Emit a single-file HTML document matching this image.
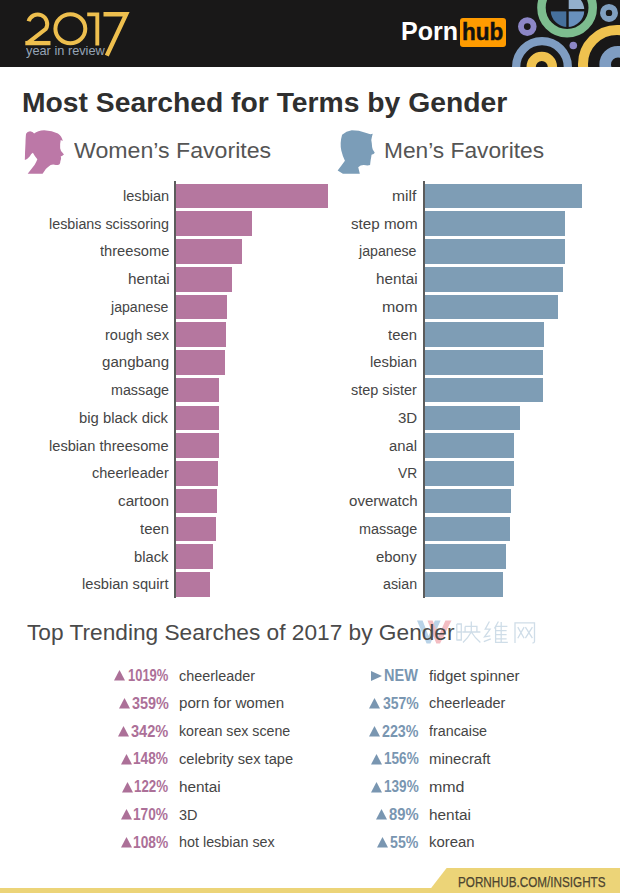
<!DOCTYPE html>
<html><head><meta charset="utf-8"><style>
html,body{margin:0;padding:0;background:#fff;}
body{width:620px;height:893px;position:relative;overflow:hidden;font-family:"Liberation Sans",sans-serif;}
.t{position:absolute;white-space:nowrap;}
</style></head><body>
<div style="position:absolute;left:0;top:0;width:620px;height:66.5px;background:#191818;overflow:hidden">
<svg width="620" height="67" style="position:absolute;left:0;top:0" viewBox="0 0 620 67">
<g fill="none">
<circle cx="567.1" cy="7.7" r="25.65" stroke="#7dbd8f" stroke-width="8.5"/>
<circle cx="527.3" cy="26.6" r="6.35" stroke="#8c86c6" stroke-width="5.9"/>
<circle cx="609" cy="12.9" r="6.1" stroke="#7f9fc0" stroke-width="5.8"/>
<circle cx="542" cy="67" r="25.85" stroke="#7f9dc2" stroke-width="8.3"/>
<circle cx="541.8" cy="67" r="10.65" stroke="#efc24f" stroke-width="9.3"/>
<circle cx="617" cy="64" r="34" stroke="#efc24f" stroke-width="10"/>
<circle cx="618" cy="64.5" r="12.8" stroke="#7f9dc2" stroke-width="11.6"/>
</g>
<circle cx="573.3" cy="45.5" r="3.8" fill="#8c86c6"/>
<g>
<path d="M567.5 10.2 L584.3 10.2 A16.8 16.8 0 0 0 567.5 -6.600000000000001 Z" fill="#93afcc"/>
<path d="M567.5 10.2 L550.7 10.2 A16.8 16.8 0 0 0 567.5 27.0 Z" fill="#46709c"/>
<path d="M567.5 10.2 L567.5 27.0 A16.8 16.8 0 0 0 584.3 10.2 Z" fill="#6890bd"/>
<rect x="566.3" y="-8" width="2.4" height="36" fill="#191818"/>
<rect x="549.7" y="9.0" width="35.6" height="2.4" fill="#191818"/>
</g>
</svg>
</div>
<svg width="140" height="67" style="position:absolute;left:0;top:0" viewBox="0 0 140 67">
<g fill="none" stroke="#eebf4e" stroke-width="4" stroke-linecap="butt" stroke-linejoin="miter" stroke-miterlimit="10">
<path d="M28.6 21.3 A9.5 9.5 0 1 1 45.9 28.8 L27.6 43.1"/>
<path d="M25.3 43.1 L50.5 43.1" stroke-width="4.3"/>
<ellipse cx="70.35" cy="28.75" rx="14.95" ry="14.45"/>
<path d="M87.2 14.4 L97.3 14.4 L97.3 45.5" stroke-width="3.9"/>
<path d="M103.5 14.25 L126.2 14.25 L106.8 55.6" stroke-width="4.3"/>
</g>
</svg>
<div class="t" style="left:25.80px;top:43.60px;font-size:13px;line-height:13px;color:#95a3b5;font-weight:normal;transform:scaleX(0.9824);transform-origin:left center;">year in review</div>
<div class="t" style="left:401.07px;top:18.78px;font-size:25.3px;line-height:25.3px;color:#ffffff;font-weight:bold;transform:scaleX(0.9891);transform-origin:left center;">Porn</div>
<div style="position:absolute;left:459.8px;top:18.1px;width:46.4px;height:28.7px;background:#ff9b00;border-radius:3px"></div>
<div class="t" style="left:462.12px;top:19.63px;font-size:24.3px;line-height:24.3px;color:#111111;font-weight:bold;transform:scaleX(0.9259);transform-origin:left center;-webkit-text-stroke:0.5px #111;">hub</div>
<div class="t" style="left:22.16px;top:88.07px;font-size:28.5px;line-height:28.5px;color:#2f2f2f;font-weight:bold;transform:scaleX(0.9925);transform-origin:left center;">Most Searched for Terms by Gender</div>
<svg width="50" height="50" style="position:absolute;left:20px;top:127px" viewBox="0 0 620 620">
<path fill="#bc78a7" d="M75 85 Q90 55 125 52 Q160 55 175 80 Q220 45 300 40 Q400 45 470 80 Q520 115 530 175 L505 160 Q495 200 498 265 Q505 300 520 310 L545 340 L525 355 L505 365 Q512 385 508 400 Q500 420 497 450 Q490 470 470 472 L445 470 Q410 462 380 470 Q345 495 320 520 L280 580 L95 580 L180 470 Q205 430 215 400 Q180 360 160 320 Q140 330 120 365 Q90 400 60 410 Q62 300 68 200 Q70 120 75 85 Z"/>
</svg>
<svg width="50" height="50" style="position:absolute;left:330px;top:127px" viewBox="0 0 620 620">
<path fill="#7b9db8" d="M150 95 Q200 50 270 40 Q360 40 440 70 L500 90 L530 85 L520 120 Q505 160 518 200 Q520 250 530 280 L555 320 Q545 340 515 345 Q512 375 505 405 Q500 440 497 470 Q470 482 420 470 Q380 468 350 500 L370 580 L160 580 L95 540 Q150 470 185 420 Q160 370 140 290 Q120 200 150 95 Z"/>
</svg>
<div class="t" style="left:73.78px;top:139.78px;font-size:22px;line-height:22px;color:#555555;font-weight:normal;transform:scaleX(1.0517);transform-origin:left center;">Women’s Favorites</div>
<div class="t" style="left:384.18px;top:139.58px;font-size:22px;line-height:22px;color:#555555;font-weight:normal;transform:scaleX(1.0331);transform-origin:left center;">Men’s Favorites</div>
<div style="position:absolute;left:174px;top:181px;width:2px;height:416.8px;background:#5c5c5c"></div>
<div style="position:absolute;left:176px;top:183.70px;width:152.00px;height:24.6px;background:#b5779f"></div>
<div class="t" style="left:123.05px;top:187.98px;font-size:15.5px;line-height:15.5px;color:#454545;font-weight:normal;transform:scaleX(0.9402);transform-origin:left center;">lesbian</div>
<div style="position:absolute;left:176px;top:211.44px;width:75.70px;height:24.6px;background:#b5779f"></div>
<div class="t" style="left:49.27px;top:215.72px;font-size:15.5px;line-height:15.5px;color:#454545;font-weight:normal;transform:scaleX(0.9224);transform-origin:left center;">lesbians scissoring</div>
<div style="position:absolute;left:176px;top:239.18px;width:65.80px;height:24.6px;background:#b5779f"></div>
<div class="t" style="left:99.58px;top:243.46px;font-size:15.5px;line-height:15.5px;color:#454545;font-weight:normal;transform:scaleX(0.9463);transform-origin:left center;">threesome</div>
<div style="position:absolute;left:176px;top:266.92px;width:55.80px;height:24.6px;background:#b5779f"></div>
<div class="t" style="left:127.63px;top:271.20px;font-size:15.5px;line-height:15.5px;color:#454545;font-weight:normal;transform:scaleX(0.9864);transform-origin:left center;">hentai</div>
<div style="position:absolute;left:176px;top:294.66px;width:51.20px;height:24.6px;background:#b5779f"></div>
<div class="t" style="left:111.45px;top:298.94px;font-size:15.5px;line-height:15.5px;color:#454545;font-weight:normal;transform:scaleX(0.9123);transform-origin:left center;">japanese</div>
<div style="position:absolute;left:176px;top:322.40px;width:50.00px;height:24.6px;background:#b5779f"></div>
<div class="t" style="left:104.55px;top:326.68px;font-size:15.5px;line-height:15.5px;color:#454545;font-weight:normal;transform:scaleX(0.9390);transform-origin:left center;">rough sex</div>
<div style="position:absolute;left:176px;top:350.14px;width:49.00px;height:24.6px;background:#b5779f"></div>
<div class="t" style="left:102.20px;top:354.42px;font-size:15.5px;line-height:15.5px;color:#454545;font-weight:normal;transform:scaleX(0.9726);transform-origin:left center;">gangbang</div>
<div style="position:absolute;left:176px;top:377.88px;width:43.10px;height:24.6px;background:#b5779f"></div>
<div class="t" style="left:110.87px;top:382.16px;font-size:15.5px;line-height:15.5px;color:#454545;font-weight:normal;transform:scaleX(0.9228);transform-origin:left center;">massage</div>
<div style="position:absolute;left:176px;top:405.62px;width:43.00px;height:24.6px;background:#b5779f"></div>
<div class="t" style="left:79.24px;top:409.90px;font-size:15.5px;line-height:15.5px;color:#454545;font-weight:normal;transform:scaleX(0.9569);transform-origin:left center;">big black dick</div>
<div style="position:absolute;left:176px;top:433.36px;width:43.00px;height:24.6px;background:#b5779f"></div>
<div class="t" style="left:49.25px;top:437.64px;font-size:15.5px;line-height:15.5px;color:#454545;font-weight:normal;transform:scaleX(0.9447);transform-origin:left center;">lesbian threesome</div>
<div style="position:absolute;left:176px;top:461.10px;width:41.60px;height:24.6px;background:#b5779f"></div>
<div class="t" style="left:91.82px;top:465.38px;font-size:15.5px;line-height:15.5px;color:#454545;font-weight:normal;transform:scaleX(0.9372);transform-origin:left center;">cheerleader</div>
<div style="position:absolute;left:176px;top:488.84px;width:40.80px;height:24.6px;background:#b5779f"></div>
<div class="t" style="left:118.39px;top:493.12px;font-size:15.5px;line-height:15.5px;color:#454545;font-weight:normal;transform:scaleX(0.9847);transform-origin:left center;">cartoon</div>
<div style="position:absolute;left:176px;top:516.58px;width:39.80px;height:24.6px;background:#b5779f"></div>
<div class="t" style="left:140.28px;top:520.86px;font-size:15.5px;line-height:15.5px;color:#454545;font-weight:normal;transform:scaleX(0.9617);transform-origin:left center;">teen</div>
<div style="position:absolute;left:176px;top:544.32px;width:37.30px;height:24.6px;background:#b5779f"></div>
<div class="t" style="left:133.84px;top:548.60px;font-size:15.5px;line-height:15.5px;color:#454545;font-weight:normal;transform:scaleX(0.9521);transform-origin:left center;">black</div>
<div style="position:absolute;left:176px;top:572.06px;width:33.90px;height:24.6px;background:#b5779f"></div>
<div class="t" style="left:81.95px;top:576.34px;font-size:15.5px;line-height:15.5px;color:#454545;font-weight:normal;transform:scaleX(0.9467);transform-origin:left center;">lesbian squirt</div>
<div style="position:absolute;left:423px;top:181px;width:2px;height:416.8px;background:#5c5c5c"></div>
<div style="position:absolute;left:425px;top:183.70px;width:157.00px;height:24.6px;background:#7e9db5"></div>
<div class="t" style="left:391.98px;top:187.98px;font-size:15.5px;line-height:15.5px;color:#454545;font-weight:normal;transform:scaleX(1.0089);transform-origin:left center;">milf</div>
<div style="position:absolute;left:425px;top:211.44px;width:139.50px;height:24.6px;background:#7e9db5"></div>
<div class="t" style="left:350.64px;top:215.72px;font-size:15.5px;line-height:15.5px;color:#454545;font-weight:normal;transform:scaleX(0.9794);transform-origin:left center;">step mom</div>
<div style="position:absolute;left:425px;top:239.18px;width:139.50px;height:24.6px;background:#7e9db5"></div>
<div class="t" style="left:359.35px;top:243.46px;font-size:15.5px;line-height:15.5px;color:#454545;font-weight:normal;transform:scaleX(0.9139);transform-origin:left center;">japanese</div>
<div style="position:absolute;left:425px;top:266.92px;width:138.00px;height:24.6px;background:#7e9db5"></div>
<div class="t" style="left:375.73px;top:271.20px;font-size:15.5px;line-height:15.5px;color:#454545;font-weight:normal;transform:scaleX(0.9839);transform-origin:left center;">hentai</div>
<div style="position:absolute;left:425px;top:294.66px;width:132.80px;height:24.6px;background:#7e9db5"></div>
<div class="t" style="left:381.86px;top:298.94px;font-size:15.5px;line-height:15.5px;color:#454545;font-weight:normal;transform:scaleX(1.0286);transform-origin:left center;">mom</div>
<div style="position:absolute;left:425px;top:322.40px;width:118.70px;height:24.6px;background:#7e9db5"></div>
<div class="t" style="left:388.38px;top:326.68px;font-size:15.5px;line-height:15.5px;color:#454545;font-weight:normal;transform:scaleX(0.9582);transform-origin:left center;">teen</div>
<div style="position:absolute;left:425px;top:350.14px;width:118.10px;height:24.6px;background:#7e9db5"></div>
<div class="t" style="left:370.34px;top:354.42px;font-size:15.5px;line-height:15.5px;color:#454545;font-weight:normal;transform:scaleX(0.9550);transform-origin:left center;">lesbian</div>
<div style="position:absolute;left:425px;top:377.88px;width:117.70px;height:24.6px;background:#7e9db5"></div>
<div class="t" style="left:350.67px;top:382.16px;font-size:15.5px;line-height:15.5px;color:#454545;font-weight:normal;transform:scaleX(0.9327);transform-origin:left center;">step sister</div>
<div style="position:absolute;left:425px;top:405.62px;width:94.80px;height:24.6px;background:#7e9db5"></div>
<div class="t" style="left:397.80px;top:409.90px;font-size:15.5px;line-height:15.5px;color:#454545;font-weight:normal;transform:scaleX(0.9705);transform-origin:left center;">3D</div>
<div style="position:absolute;left:425px;top:433.36px;width:89.40px;height:24.6px;background:#7e9db5"></div>
<div class="t" style="left:389.21px;top:437.64px;font-size:15.5px;line-height:15.5px;color:#454545;font-weight:normal;transform:scaleX(0.9578);transform-origin:left center;">anal</div>
<div style="position:absolute;left:425px;top:461.10px;width:88.80px;height:24.6px;background:#7e9db5"></div>
<div class="t" style="left:397.83px;top:465.38px;font-size:15.5px;line-height:15.5px;color:#454545;font-weight:normal;transform:scaleX(0.8892);transform-origin:left center;">VR</div>
<div style="position:absolute;left:425px;top:488.84px;width:86.00px;height:24.6px;background:#7e9db5"></div>
<div class="t" style="left:348.60px;top:493.12px;font-size:15.5px;line-height:15.5px;color:#454545;font-weight:normal;transform:scaleX(0.9728);transform-origin:left center;">overwatch</div>
<div style="position:absolute;left:425px;top:516.58px;width:85.00px;height:24.6px;background:#7e9db5"></div>
<div class="t" style="left:358.57px;top:520.86px;font-size:15.5px;line-height:15.5px;color:#454545;font-weight:normal;transform:scaleX(0.9277);transform-origin:left center;">massage</div>
<div style="position:absolute;left:425px;top:544.32px;width:81.40px;height:24.6px;background:#7e9db5"></div>
<div class="t" style="left:375.70px;top:548.60px;font-size:15.5px;line-height:15.5px;color:#454545;font-weight:normal;transform:scaleX(0.9611);transform-origin:left center;">ebony</div>
<div style="position:absolute;left:425px;top:572.06px;width:77.80px;height:24.6px;background:#7e9db5"></div>
<div class="t" style="left:383.13px;top:576.34px;font-size:15.5px;line-height:15.5px;color:#454545;font-weight:normal;transform:scaleX(0.9204);transform-origin:left center;">asian</div>
<svg width="620" height="60" style="position:absolute;left:0;top:600px" viewBox="0 600 620 60">
<path d="M417 620.4 L422.6 620.4 L428.6 636 L434.9 620.4 L440.6 620.4 L430.4 643.5 L426.6 643.5 Z" fill="#b9d3e8"/>
<path d="M427.5 620.4 L432.6 620.4 L438.6 636 L445.4 620.4 L451.5 620.4 L440 643.5 L436.3 643.5 Z" fill="#f2b6bb" opacity="0.9"/>
<g fill="none" stroke="#cfdde8" stroke-width="1.3">
<path d="M456.8 624 L456.8 640.5 M456.8 624 L461.3 624 L461.3 640 L456.8 640 M456.8 632 L461.3 632"/>
<path d="M471.3 621.5 L471.3 632 M465.1 626.4 L476.9 626.4 L476.9 632 M465.1 626.4 L465.1 632 M462.3 632 L480.4 632 M471.3 632 Q468 638 463 642.4 M471.3 632 Q475 638 480.4 642.4"/>
<path d="M489.4 621.5 L485.2 629.2 L490.1 629.2 L484.5 636.8 L490.3 635.8 M483.8 641.7 L490.8 638.9"/>
<path d="M498.4 621.5 L494.4 628.5 M495.6 625.7 L495.6 643 M495.6 626.4 L507.4 626.4 M495.6 630.6 L506.6 630.6 M495.6 634.7 L506.6 634.7 M495.6 638.9 L506.6 638.9 M495.6 642.4 L507.8 642.4 M501.2 622 L501.2 642.4"/>
<path d="M515 643 L515 622.9 L534.5 622.9 L534.5 641.5 Q534.5 643 532.5 643 M517.8 627.1 L524.1 638.2 M524.1 627.1 L517.8 638.2 M525.4 627.1 L532.4 638.2 M532.4 627.1 L525.4 638.2"/>
</g>
</svg>
<div class="t" style="left:27.35px;top:621.75px;font-size:21.8px;line-height:21.8px;color:#4a4a4a;font-weight:normal;transform:scaleX(1.0408);transform-origin:left center;">Top Trending Searches of 2017 by Gender</div>
<svg width="12" height="11" style="position:absolute;left:114.2px;top:670.30px" viewBox="0 0 12 11"><path d="M0 10.5 L5.5 0 L11 10.5 Z" fill="#ac7098"/></svg>
<div class="t" style="left:128.12px;top:667.00px;font-size:16.3px;line-height:16.3px;color:#ac7098;font-weight:bold;transform:scaleX(0.7957);transform-origin:left center;">1019%</div>
<div class="t" style="left:179.22px;top:667.68px;font-size:15.5px;line-height:15.5px;color:#454545;font-weight:normal;transform:scaleX(0.9285);transform-origin:left center;">cheerleader</div>
<svg width="12" height="11" style="position:absolute;left:118.9px;top:698.10px" viewBox="0 0 12 11"><path d="M0 10.5 L5.5 0 L11 10.5 Z" fill="#ac7098"/></svg>
<div class="t" style="left:131.64px;top:694.80px;font-size:16.3px;line-height:16.3px;color:#ac7098;font-weight:bold;transform:scaleX(0.8848);transform-origin:left center;">359%</div>
<div class="t" style="left:178.82px;top:695.48px;font-size:15.5px;line-height:15.5px;color:#454545;font-weight:normal;transform:scaleX(0.9770);transform-origin:left center;">porn for women</div>
<svg width="12" height="11" style="position:absolute;left:118.2px;top:725.90px" viewBox="0 0 12 11"><path d="M0 10.5 L5.5 0 L11 10.5 Z" fill="#ac7098"/></svg>
<div class="t" style="left:131.13px;top:722.60px;font-size:16.3px;line-height:16.3px;color:#ac7098;font-weight:bold;transform:scaleX(0.8970);transform-origin:left center;">342%</div>
<div class="t" style="left:178.88px;top:723.28px;font-size:15.5px;line-height:15.5px;color:#454545;font-weight:normal;transform:scaleX(0.9156);transform-origin:left center;">korean sex scene</div>
<svg width="12" height="11" style="position:absolute;left:121px;top:753.70px" viewBox="0 0 12 11"><path d="M0 10.5 L5.5 0 L11 10.5 Z" fill="#ac7098"/></svg>
<div class="t" style="left:133.48px;top:750.40px;font-size:16.3px;line-height:16.3px;color:#ac7098;font-weight:bold;transform:scaleX(0.8403);transform-origin:left center;">148%</div>
<div class="t" style="left:179.21px;top:751.08px;font-size:15.5px;line-height:15.5px;color:#454545;font-weight:normal;transform:scaleX(0.9460);transform-origin:left center;">celebrity sex tape</div>
<svg width="12" height="11" style="position:absolute;left:122px;top:781.50px" viewBox="0 0 12 11"><path d="M0 10.5 L5.5 0 L11 10.5 Z" fill="#ac7098"/></svg>
<div class="t" style="left:134.40px;top:778.20px;font-size:16.3px;line-height:16.3px;color:#ac7098;font-weight:bold;transform:scaleX(0.8180);transform-origin:left center;">122%</div>
<div class="t" style="left:178.73px;top:778.88px;font-size:15.5px;line-height:15.5px;color:#454545;font-weight:normal;transform:scaleX(0.9889);transform-origin:left center;">hentai</div>
<svg width="12" height="11" style="position:absolute;left:121px;top:809.30px" viewBox="0 0 12 11"><path d="M0 10.5 L5.5 0 L11 10.5 Z" fill="#ac7098"/></svg>
<div class="t" style="left:133.48px;top:806.00px;font-size:16.3px;line-height:16.3px;color:#ac7098;font-weight:bold;transform:scaleX(0.8403);transform-origin:left center;">170%</div>
<div class="t" style="left:179.22px;top:806.68px;font-size:15.5px;line-height:15.5px;color:#454545;font-weight:normal;transform:scaleX(0.9325);transform-origin:left center;">3D</div>
<svg width="12" height="11" style="position:absolute;left:120.5px;top:837.10px" viewBox="0 0 12 11"><path d="M0 10.5 L5.5 0 L11 10.5 Z" fill="#ac7098"/></svg>
<div class="t" style="left:133.27px;top:833.80px;font-size:16.3px;line-height:16.3px;color:#ac7098;font-weight:bold;transform:scaleX(0.8453);transform-origin:left center;">108%</div>
<div class="t" style="left:178.80px;top:834.48px;font-size:15.5px;line-height:15.5px;color:#454545;font-weight:normal;transform:scaleX(0.9261);transform-origin:left center;">hot lesbian sex</div>
<svg width="12" height="11" style="position:absolute;left:371px;top:670.80px" viewBox="0 0 12 11"><path d="M0 0 L11 5 L0 10 Z" fill="#7996b1"/></svg>
<div class="t" style="left:384.26px;top:667.00px;font-size:16.3px;line-height:16.3px;color:#7996b1;font-weight:bold;transform:scaleX(0.8919);transform-origin:left center;">NEW</div>
<div class="t" style="left:429.37px;top:667.68px;font-size:15.5px;line-height:15.5px;color:#454545;font-weight:normal;transform:scaleX(0.9737);transform-origin:left center;">fidget spinner</div>
<svg width="12" height="11" style="position:absolute;left:369.4px;top:698.10px" viewBox="0 0 12 11"><path d="M0 10.5 L5.5 0 L11 10.5 Z" fill="#7996b1"/></svg>
<div class="t" style="left:382.65px;top:694.80px;font-size:16.3px;line-height:16.3px;color:#7996b1;font-weight:bold;transform:scaleX(0.8604);transform-origin:left center;">357%</div>
<div class="t" style="left:429.02px;top:695.48px;font-size:15.5px;line-height:15.5px;color:#454545;font-weight:normal;transform:scaleX(0.9335);transform-origin:left center;">cheerleader</div>
<svg width="12" height="11" style="position:absolute;left:368.9px;top:725.90px" viewBox="0 0 12 11"><path d="M0 10.5 L5.5 0 L11 10.5 Z" fill="#7996b1"/></svg>
<div class="t" style="left:382.00px;top:722.60px;font-size:16.3px;line-height:16.3px;color:#7996b1;font-weight:bold;transform:scaleX(0.8761);transform-origin:left center;">223%</div>
<div class="t" style="left:429.39px;top:723.28px;font-size:15.5px;line-height:15.5px;color:#454545;font-weight:normal;transform:scaleX(0.9226);transform-origin:left center;">francaise</div>
<svg width="12" height="11" style="position:absolute;left:371px;top:753.70px" viewBox="0 0 12 11"><path d="M0 10.5 L5.5 0 L11 10.5 Z" fill="#7996b1"/></svg>
<div class="t" style="left:383.79px;top:750.40px;font-size:16.3px;line-height:16.3px;color:#7996b1;font-weight:bold;transform:scaleX(0.8329);transform-origin:left center;">156%</div>
<div class="t" style="left:428.63px;top:751.08px;font-size:15.5px;line-height:15.5px;color:#454545;font-weight:normal;transform:scaleX(0.9645);transform-origin:left center;">minecraft</div>
<svg width="12" height="11" style="position:absolute;left:371px;top:781.50px" viewBox="0 0 12 11"><path d="M0 10.5 L5.5 0 L11 10.5 Z" fill="#7996b1"/></svg>
<div class="t" style="left:383.79px;top:778.20px;font-size:16.3px;line-height:16.3px;color:#7996b1;font-weight:bold;transform:scaleX(0.8329);transform-origin:left center;">139%</div>
<div class="t" style="left:428.56px;top:778.88px;font-size:15.5px;line-height:15.5px;color:#454545;font-weight:normal;transform:scaleX(1.0310);transform-origin:left center;">mmd</div>
<svg width="12" height="11" style="position:absolute;left:376.2px;top:809.30px" viewBox="0 0 12 11"><path d="M0 10.5 L5.5 0 L11 10.5 Z" fill="#7996b1"/></svg>
<div class="t" style="left:388.96px;top:806.00px;font-size:16.3px;line-height:16.3px;color:#7996b1;font-weight:bold;transform:scaleX(0.9084);transform-origin:left center;">89%</div>
<div class="t" style="left:428.52px;top:806.68px;font-size:15.5px;line-height:15.5px;color:#454545;font-weight:normal;transform:scaleX(0.9914);transform-origin:left center;">hentai</div>
<svg width="12" height="11" style="position:absolute;left:377px;top:837.10px" viewBox="0 0 12 11"><path d="M0 10.5 L5.5 0 L11 10.5 Z" fill="#7996b1"/></svg>
<div class="t" style="left:390.17px;top:833.80px;font-size:16.3px;line-height:16.3px;color:#7996b1;font-weight:bold;transform:scaleX(0.8706);transform-origin:left center;">55%</div>
<div class="t" style="left:428.63px;top:834.48px;font-size:15.5px;line-height:15.5px;color:#454545;font-weight:normal;transform:scaleX(0.9617);transform-origin:left center;">korean</div>
<div style="position:absolute;left:0;top:888px;width:620px;height:5px;background:#ecd478"></div>
<svg width="200" height="30" style="position:absolute;left:420px;top:863px" viewBox="0 0 200 30"><path d="M10.8 25.5 L26.6 5 L200 5 L200 30 L9 30 Z" fill="#ecd478"/></svg>
<div class="t" style="left:457.76px;top:875.43px;font-size:14.5px;line-height:14.5px;color:#4d4530;font-weight:normal;transform:scaleX(0.8070);transform-origin:left center;-webkit-text-stroke:0.25px #4d4530;">PORNHUB.COM/INSIGHTS</div>
</body></html>
